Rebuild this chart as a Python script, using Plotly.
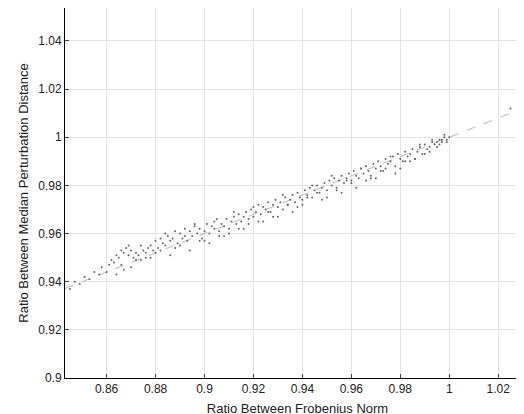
import plotly.graph_objects as go

# scatter points (x = Frobenius ratio, y = median perturbation ratio)
px = [0.845, 0.847, 0.849, 0.851, 0.853, 0.855, 0.857, 0.858, 0.860, 0.861, 0.862, 0.863, 0.864,
      0.865, 0.866, 0.867, 0.868, 0.869, 0.870, 0.871, 0.872, 0.873, 0.874, 0.875, 0.876, 0.877,
      0.878, 0.879, 0.880, 0.881, 0.882, 0.883, 0.884, 0.885, 0.886, 0.887, 0.888, 0.889, 0.890,
      0.891, 0.892, 0.893, 0.894, 0.895, 0.896, 0.897, 0.898, 0.899, 0.900, 0.901, 0.902, 0.903,
      0.904, 0.905, 0.906, 0.907, 0.908, 0.909, 0.910, 0.911, 0.912, 0.913, 0.914, 0.915, 0.916,
      0.917, 0.918, 0.919, 0.920, 0.921, 0.922, 0.923, 0.924, 0.925, 0.926, 0.927, 0.928, 0.929,
      0.930, 0.931, 0.932, 0.933, 0.934, 0.935, 0.936, 0.937, 0.938, 0.939, 0.940, 0.941, 0.942,
      0.943, 0.944, 0.945, 0.946, 0.947, 0.948, 0.949, 0.950, 0.951, 0.952, 0.953, 0.954, 0.955,
      0.956, 0.957, 0.958, 0.959, 0.960, 0.961, 0.962, 0.963, 0.964, 0.965, 0.966, 0.967, 0.968,
      0.969, 0.970, 0.971, 0.972, 0.973, 0.974, 0.975, 0.976, 0.977, 0.978, 0.979, 0.980, 0.981,
      0.982, 0.983, 0.984, 0.985, 0.986, 0.987, 0.988, 0.989, 0.990, 0.991, 0.992, 0.993, 0.994,
      0.995, 0.996, 0.997, 0.998, 0.999, 1.000,
      0.866, 0.869, 0.872, 0.876, 0.880, 0.884, 0.888, 0.892, 0.896, 0.900, 0.904, 0.908, 0.912,
      0.916, 0.920, 0.924, 0.928, 0.932, 0.936, 0.940, 0.944, 0.948, 0.952, 0.956, 0.960, 0.964,
      0.968, 0.972, 0.976, 0.980, 0.984, 0.988, 0.992, 0.995, 0.997, 0.999, 0.998, 0.996, 0.993,
      0.990, 0.986, 0.982, 0.978, 0.974, 0.970, 0.966, 0.962, 0.958, 0.954, 0.950, 0.946, 0.942,
      0.938, 0.934, 0.930, 0.926, 0.922, 0.918, 0.914, 0.910, 0.906, 0.902, 0.898, 0.894, 0.890,
      0.886, 0.882, 0.878, 0.874, 0.870, 0.867, 0.864, 1.025]
py = [0.937, 0.940, 0.939, 0.942, 0.941, 0.944, 0.943, 0.946, 0.944, 0.947, 0.949, 0.948, 0.951,
      0.950, 0.953, 0.952, 0.954, 0.951, 0.953, 0.950, 0.952, 0.951, 0.955, 0.953, 0.952, 0.954,
      0.955, 0.953, 0.957, 0.954, 0.958, 0.956, 0.955, 0.959, 0.957, 0.958, 0.961, 0.956, 0.960,
      0.958, 0.962, 0.957, 0.961, 0.959, 0.963, 0.960, 0.962, 0.958, 0.961, 0.964, 0.960, 0.963,
      0.962, 0.966, 0.961, 0.964, 0.963, 0.966, 0.962, 0.965, 0.967, 0.964, 0.968, 0.965, 0.967,
      0.969, 0.966, 0.970, 0.967, 0.969, 0.972, 0.968, 0.971, 0.970, 0.973, 0.969, 0.972, 0.974,
      0.971, 0.973, 0.970, 0.975, 0.972, 0.974, 0.976, 0.973, 0.977, 0.975, 0.974, 0.978, 0.976,
      0.979, 0.975, 0.978, 0.980, 0.977, 0.979, 0.981, 0.978, 0.982, 0.980, 0.983, 0.979, 0.982,
      0.984, 0.981, 0.983, 0.985, 0.982, 0.986, 0.984, 0.983, 0.987, 0.985, 0.988, 0.986, 0.984,
      0.989, 0.987, 0.990, 0.988, 0.986, 0.991, 0.989, 0.990, 0.992, 0.988, 0.993, 0.991, 0.990,
      0.994, 0.992, 0.993, 0.995, 0.991, 0.994, 0.996, 0.993, 0.997, 0.995, 0.996, 0.998, 0.997,
      0.998, 0.999, 0.998, 1.000, 0.999, 1.000,
      0.947, 0.955, 0.949, 0.950, 0.952, 0.960, 0.954, 0.959, 0.964, 0.957, 0.965, 0.959, 0.969,
      0.962, 0.971, 0.965, 0.967, 0.976, 0.969, 0.972, 0.980, 0.974, 0.984, 0.977, 0.981, 0.987,
      0.983, 0.986, 0.992, 0.987, 0.990, 0.997, 0.994, 0.996, 0.999, 0.998, 1.001, 0.997, 0.999,
      0.993, 0.991, 0.990, 0.985, 0.987, 0.983, 0.982, 0.979, 0.982, 0.978, 0.975, 0.977, 0.975,
      0.971, 0.972, 0.967, 0.969, 0.965, 0.964, 0.962, 0.960, 0.959, 0.956, 0.957, 0.953, 0.955,
      0.951, 0.953, 0.950, 0.949, 0.946, 0.945, 0.943, 1.012]

# reference line through (1, 1)
line_x = [0.843, 1.033]
line_y = [1 - 0.4 * (1 - v) for v in line_x]

fig = go.Figure()
fig.add_trace(go.Scatter(x=line_x, y=line_y, mode="lines",
                         line=dict(color="#b8b8b8", width=1, dash="dash"), hoverinfo="skip"))
fig.add_trace(go.Scatter(x=px, y=py, mode="markers",
                         marker=dict(size=2, color="#666666")))

axis = dict(showline=True, linecolor="black", linewidth=1, mirror=True, ticks="inside",
            ticklen=4, showgrid=True, gridcolor="#e3e3e3", zeroline=False, automargin=False,
            tickfont=dict(size=12, color="#222"))
fig.update_xaxes(range=[0.843, 1.033], dtick=0.02, tickformat="~g",
                 title=dict(text="Ratio Between Frobenius Norm", font=dict(size=13), standoff=8), **axis)
fig.update_yaxes(range=[0.9, 1.0537], dtick=0.02, tickformat="~g",
                 title=dict(text="Ratio Between Median Perturbation Distance", font=dict(size=13), standoff=6), **axis)
fig.update_layout(width=524, height=414, showlegend=False, plot_bgcolor="white",
                  paper_bgcolor="white", margin=dict(l=57, r=2, t=0, b=44),
                  font=dict(family="Liberation Sans, Arial", color="#222"))
fig.write_html("out.html")
